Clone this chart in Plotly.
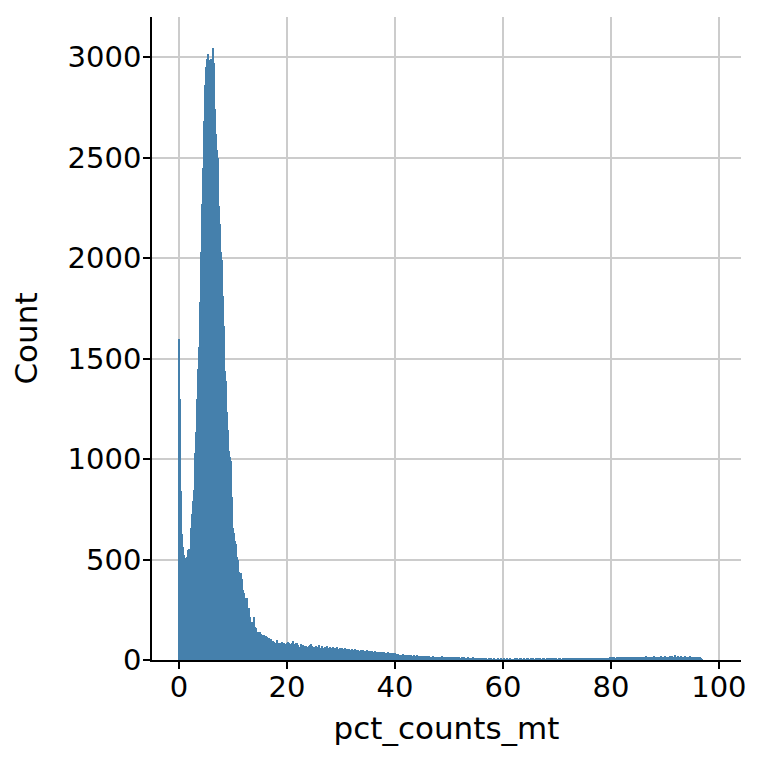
import plotly.graph_objects as go

# Histogram of pct_counts_mt (seaborn-style, ~0.185 wide bins starting at 0)
bin_start = 0.0
bin_width = 0.185

counts_peak = [
    1600, 1300, 840, 625, 560, 525, 510, 505, 515, 545,
    550, 520, 655, 725, 790, 845, 1030, 1135, 1300, 1450,
    1560, 1780, 2030, 2270, 2450, 2680, 2860, 2950, 2990, 3015,
    2960, 2985, 2990, 2955, 3045, 2970, 2740, 2620, 2540, 2500,
    2260, 2170, 2030, 1990, 1810, 1660, 1440, 1390, 1235, 1145,
    1040, 1010, 990, 810, 655, 632, 590, 575, 512, 497,
    440, 430, 431, 401, 348, 335, 264, 308, 308, 259,
    259, 214, 184, 190, 164, 212, 164, 159, 134, 139,
    134, 139, 129, 124, 119, 124, 114, 119, 114, 104,
    109, 99, 104, 90, 95, 90, 85, 85, 99, 85,
    80, 85, 84, 92, 80, 83, 75, 78, 85, 90,
    84, 82, 76, 84, 95, 80, 70, 83, 86, 75,
    66, 67, 78, 68, 74, 69, 60, 72, 64, 60,
    70, 74, 82, 68, 62,
]

counts_tail_25_40 = [
    66, 58, 71, 63, 60, 74, 57, 62, 68, 55, 61, 65, 59, 70, 54, 60, 63, 56, 58, 66,
    52, 60, 57, 63, 50, 55, 61, 53, 58, 49, 56, 59, 51, 54, 47, 57, 52, 50, 55, 48,
    46, 53, 49, 44, 51, 47, 42, 50, 45, 48, 41, 46, 43, 49, 40, 44, 47, 39, 43, 41,
    38, 44, 40, 36, 42, 37, 39, 35, 41, 34, 38, 36, 33, 37, 40, 32, 35, 31, 34, 36, 30, 33,
]

counts_tail_40_56 = [
    28, 25, 30, 24, 27, 22, 26, 29, 23, 25, 21, 27, 24, 20, 23, 26, 19, 22, 24, 18,
    21, 23, 20, 17, 22, 19, 21, 16, 20, 18, 15, 19, 17, 20, 16,
    17, 14, 18, 13, 15, 16, 12, 17, 14, 11, 15, 18, 13, 12, 16, 14, 10, 15, 13, 17,
    11, 14, 12, 16, 10, 13, 15, 11, 14, 9, 12, 13, 10, 15, 11, 12, 9, 14, 10, 12,
    11, 8, 13, 10, 12, 9, 11, 7, 10, 12, 8, 11, 9,
]

counts_tail_56_79 = [
    6, 4, 7, 3, 5, 8, 4, 6, 3, 5, 7, 2, 5, 4, 6, 3, 5, 8, 4, 3, 6, 5, 4, 7, 3, 5, 6, 4, 2, 5,
    4, 6, 3, 7, 5, 2, 6, 8, 4, 3, 7, 5, 4, 6, 9, 3, 5, 7, 4, 6, 2, 5, 8, 4, 6, 3, 7, 5, 4, 8,
    6, 3, 5, 7, 4, 9, 5, 6, 3, 7, 4, 6, 8, 5, 3, 7, 6, 4, 5, 8, 6, 4, 7, 3, 6, 5, 9, 4, 6, 7,
    5, 8, 4, 6, 10, 5, 7, 4, 8, 6, 5, 7, 9, 4, 6, 8, 5, 7, 6, 9, 5, 8, 7, 6, 10, 5, 8, 7, 9, 6,
    8, 10, 7,
]

counts_tail_79_97 = [
    10, 12, 9, 14, 11, 13, 10, 15, 12, 11, 14, 13, 10, 16, 12, 14, 11, 15, 13, 12,
    16, 14, 11, 13, 17, 12, 15, 13, 14, 16, 12, 15, 13, 17, 14, 12, 16, 15, 13, 18,
    14, 12, 16, 14, 17, 13, 15, 18, 14, 16, 13, 15, 17, 14, 19, 15, 13, 16, 18, 14,
    17, 15, 16, 19, 14, 18, 16, 15, 25, 17, 14, 18, 16, 15, 19, 17, 14, 16, 18, 15,
    17, 13, 16, 18, 14, 15, 17, 13, 16, 14, 12, 15, 11, 13, 9, 4,
]

counts = counts_peak + counts_tail_25_40 + counts_tail_40_56 + counts_tail_56_79 + counts_tail_79_97
centers = [bin_start + (i + 0.5) * bin_width for i in range(len(counts))]

x_ticks = [0, 20, 40, 60, 80, 100]
y_ticks = [0, 500, 1000, 1500, 2000, 2500, 3000]

bar_color = "#4580ac"

fig = go.Figure()
fig.add_trace(go.Bar(
    x=centers, y=counts, width=bin_width,
    marker=dict(color=bar_color, line=dict(width=0)),
    hoverinfo="x+y",
))

font_family = "DejaVu Sans"
fig.update_layout(
    width=758, height=755,
    margin=dict(l=144, r=25, t=9, b=103, autoexpand=False),
    paper_bgcolor="white", plot_bgcolor="white",
    bargap=0, showlegend=False,
    font=dict(family=font_family, size=29, color="black"),
)
fig.update_xaxes(
    range=[-5.0, 104.1],
    tickmode="array", tickvals=x_ticks, ticktext=[str(v) for v in x_ticks],
    showgrid=True, gridcolor="#cccccc", gridwidth=1.7,
    showline=True, linecolor="black", linewidth=1.7,
    ticks="outside", ticklen=7, tickwidth=1.7, tickcolor="black",
    zeroline=False, automargin=False,
    ticklabelstandoff=-7,
    tickfont=dict(family=font_family, size=29, color="black"),
    title=dict(text="pct_counts_mt", font=dict(family=font_family, size=31, color="black"), standoff=15),
)
fig.update_yaxes(
    range=[0, 3200],
    tickmode="array", tickvals=y_ticks, ticktext=[str(v) for v in y_ticks],
    showgrid=True, gridcolor="#cccccc", gridwidth=1.7,
    showline=True, linecolor="black", linewidth=1.7,
    ticks="outside", ticklen=7, tickwidth=1.7, tickcolor="black",
    zeroline=False, automargin=False,
    ticklabelstandoff=-4,
    tickfont=dict(family=font_family, size=29, color="black"),
    title=dict(text="Count", font=dict(family=font_family, size=31, color="black"), standoff=30),
)

fig.write_html("out.html")
